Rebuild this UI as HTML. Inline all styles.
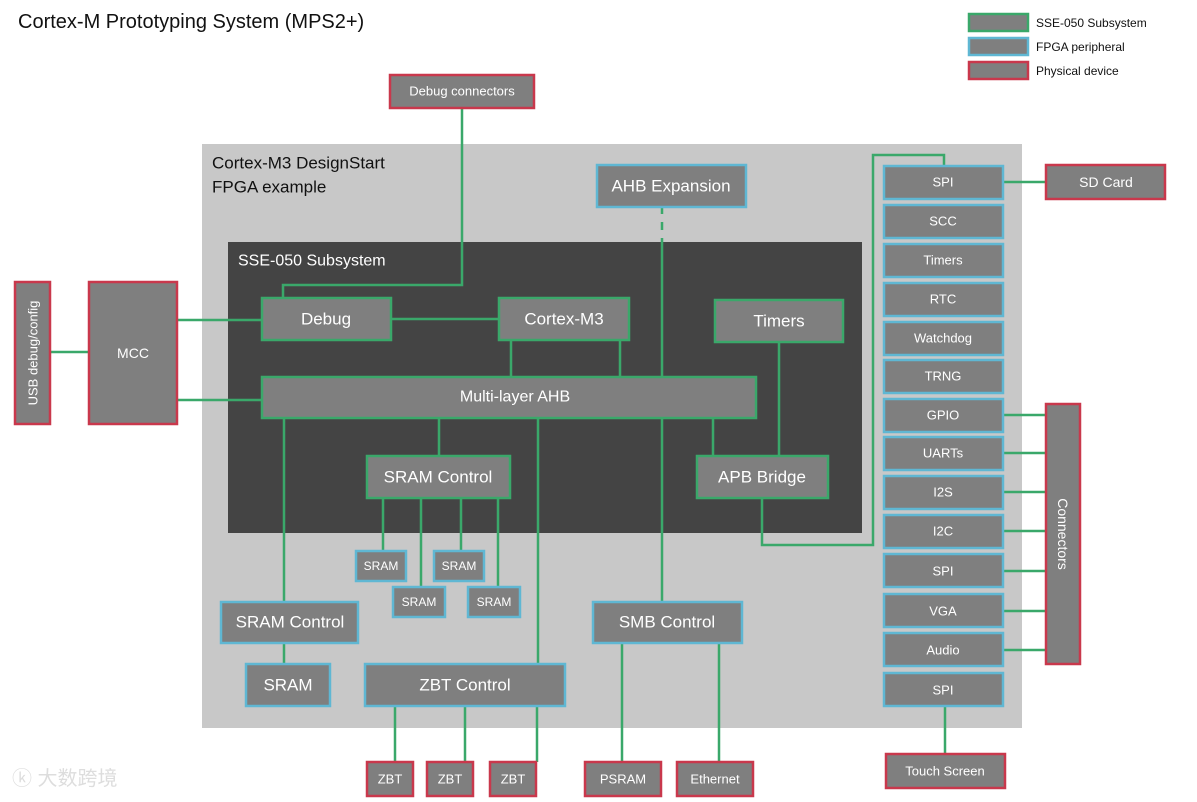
<!DOCTYPE html>
<html><head><meta charset="utf-8"><style>
html,body{margin:0;padding:0;background:#fff;}
svg{display:block;}
text{font-family:"Liberation Sans","Noto Sans CJK SC",sans-serif;fill:#fff;text-anchor:middle;dominant-baseline:central;}
.g{fill:#7f7f7f;stroke:#3aa86a;stroke-width:2.5;}
.b{fill:#7f7f7f;stroke:#5fb7d3;stroke-width:2.5;}
.r{fill:#7f7f7f;stroke:#c9384c;stroke-width:2.5;}
.l{stroke:#3aa86a;stroke-width:2.5;fill:none;}
</style></head><body>
<svg width="1197" height="802" viewBox="0 0 1197 802">
<text x="18" y="22" style="text-anchor:start;fill:#111;font-size:20px">Cortex-M Prototyping System (MPS2+)</text>
<!-- legend -->
<rect class="g" x="969" y="14" width="59" height="17"/><text x="1036" y="23" style="text-anchor:start;fill:#111;font-size:12px">SSE-050 Subsystem</text>
<rect class="b" x="969" y="38" width="59" height="17"/><text x="1036" y="47" style="text-anchor:start;fill:#111;font-size:12px">FPGA peripheral</text>
<rect class="r" x="969" y="62" width="59" height="17"/><text x="1036" y="71" style="text-anchor:start;fill:#111;font-size:12px">Physical device</text>

<rect x="202" y="144" width="820" height="584" fill="#c8c8c8"/>
<text x="212" y="163" style="text-anchor:start;fill:#111;font-size:17px">Cortex-M3 DesignStart</text>
<text x="212" y="187" style="text-anchor:start;fill:#111;font-size:17px">FPGA example</text>
<rect x="228" y="242" width="634" height="291" fill="#444"/>
<text x="238" y="261" style="text-anchor:start;font-size:16px">SSE-050 Subsystem</text>

<!-- lines -->
<path class="l" d="M462 108V285H283V298"/>
<path class="l" d="M391 319H499"/>
<path class="l" d="M511 340V377M620 340V377"/>
<path class="l" d="M662 207V214M662 222V230M662 238V377" />
<path class="l" d="M779 342V457M713 418V456M762 498V545H873V155H944V166"/>
<path class="l" d="M439 418V456M383 498V551M421 498V587M461 498V551M498 498V587"/>
<path class="l" d="M284 418V602M284 643V664M538 418V664M662 418V602"/>
<path class="l" d="M395 706V762M465 706V762M537 706V762M622 643V762M719 643V762"/>
<path class="l" d="M50 352H89M177 320H262M177 400H262"/>
<path class="l" d="M1003 182H1046M945 706V754"/>
<path class="l" d="M1003 415H1046M1003 453H1046M1003 492H1046M1003 531H1046M1003 571H1046M1003 611H1046M1003 650H1046"/>

<rect class="r" x="390" y="75" width="144" height="33"/><text x="462" y="91" style="font-size:13px">Debug connectors</text>
<rect class="b" x="597" y="165" width="149" height="42"/><text x="671" y="186" style="font-size:17px">AHB Expansion</text>
<rect class="g" x="262" y="298" width="129" height="42"/><text x="326" y="319" style="font-size:17px">Debug</text>
<rect class="g" x="499" y="298" width="130" height="42"/><text x="564" y="319" style="font-size:17px">Cortex-M3</text>
<rect class="g" x="715" y="300" width="128" height="42"/><text x="779" y="321" style="font-size:17px">Timers</text>
<rect class="g" x="262" y="377" width="494" height="41"/><text x="515" y="397" style="font-size:16px">Multi-layer AHB</text>
<rect class="g" x="367" y="456" width="143" height="42"/><text x="438" y="477" style="font-size:17px">SRAM Control</text>
<rect class="g" x="697" y="456" width="131" height="42"/><text x="762" y="477" style="font-size:17px">APB Bridge</text>

<rect class="b" x="356" y="551" width="50" height="30"/><text x="381" y="566" style="font-size:12px">SRAM</text>
<rect class="b" x="434" y="551" width="50" height="30"/><text x="459" y="566" style="font-size:12px">SRAM</text>
<rect class="b" x="393" y="587" width="52" height="30"/><text x="419" y="602" style="font-size:12px">SRAM</text>
<rect class="b" x="468" y="587" width="52" height="30"/><text x="494" y="602" style="font-size:12px">SRAM</text>
<rect class="b" x="221" y="602" width="137" height="41"/><text x="290" y="622" style="font-size:17px">SRAM Control</text>
<rect class="b" x="246" y="664" width="84" height="42"/><text x="288" y="685" style="font-size:17px">SRAM</text>
<rect class="b" x="365" y="664" width="200" height="42"/><text x="465" y="685" style="font-size:17px">ZBT Control</text>
<rect class="b" x="593" y="602" width="149" height="41"/><text x="667" y="622" style="font-size:17px">SMB Control</text>

<rect class="r" x="367" y="762" width="46" height="34"/><text x="390" y="779" style="font-size:13px">ZBT</text>
<rect class="r" x="427" y="762" width="46" height="34"/><text x="450" y="779" style="font-size:13px">ZBT</text>
<rect class="r" x="490" y="762" width="46" height="34"/><text x="513" y="779" style="font-size:13px">ZBT</text>
<rect class="r" x="585" y="762" width="76" height="34"/><text x="623" y="779" style="font-size:13px">PSRAM</text>
<rect class="r" x="677" y="762" width="76" height="34"/><text x="715" y="779" style="font-size:13px">Ethernet</text>

<rect class="r" x="15" y="282" width="35" height="142"/><text transform="translate(33 353) rotate(-90)" style="font-size:13px">USB debug/config</text>
<rect class="r" x="89" y="282" width="88" height="142"/><text x="133" y="353" style="font-size:14px">MCC</text>

<rect class="b" x="884" y="166" width="119" height="33"/><text x="943" y="182" style="font-size:13px">SPI</text>
<rect class="b" x="884" y="205" width="119" height="33"/><text x="943" y="221" style="font-size:13px">SCC</text>
<rect class="b" x="884" y="244" width="119" height="33"/><text x="943" y="260" style="font-size:13px">Timers</text>
<rect class="b" x="884" y="283" width="119" height="33"/><text x="943" y="299" style="font-size:13px">RTC</text>
<rect class="b" x="884" y="322" width="119" height="33"/><text x="943" y="338" style="font-size:13px">Watchdog</text>
<rect class="b" x="884" y="360" width="119" height="33"/><text x="943" y="376" style="font-size:13px">TRNG</text>
<rect class="b" x="884" y="399" width="119" height="33"/><text x="943" y="415" style="font-size:13px">GPIO</text>
<rect class="b" x="884" y="437" width="119" height="33"/><text x="943" y="453" style="font-size:13px">UARTs</text>
<rect class="b" x="884" y="476" width="119" height="33"/><text x="943" y="492" style="font-size:13px">I2S</text>
<rect class="b" x="884" y="515" width="119" height="33"/><text x="943" y="531" style="font-size:13px">I2C</text>
<rect class="b" x="884" y="554" width="119" height="33"/><text x="943" y="571" style="font-size:13px">SPI</text>
<rect class="b" x="884" y="594" width="119" height="33"/><text x="943" y="611" style="font-size:13px">VGA</text>
<rect class="b" x="884" y="633" width="119" height="33"/><text x="943" y="650" style="font-size:13px">Audio</text>
<rect class="b" x="884" y="673" width="119" height="33"/><text x="943" y="690" style="font-size:13px">SPI</text>

<rect class="r" x="1046" y="165" width="119" height="34"/><text x="1106" y="182" style="font-size:14px">SD Card</text>
<rect class="r" x="1046" y="404" width="34" height="260"/><text transform="translate(1063 534) rotate(90)" style="font-size:14px">Connectors</text>
<rect class="r" x="886" y="754" width="119" height="34"/><text x="945" y="771" style="font-size:13px">Touch Screen</text>

<text x="12" y="779" style="text-anchor:start;fill:#ddd;font-size:20px">ⓚ 大数跨境</text>
</svg>
</body></html>
